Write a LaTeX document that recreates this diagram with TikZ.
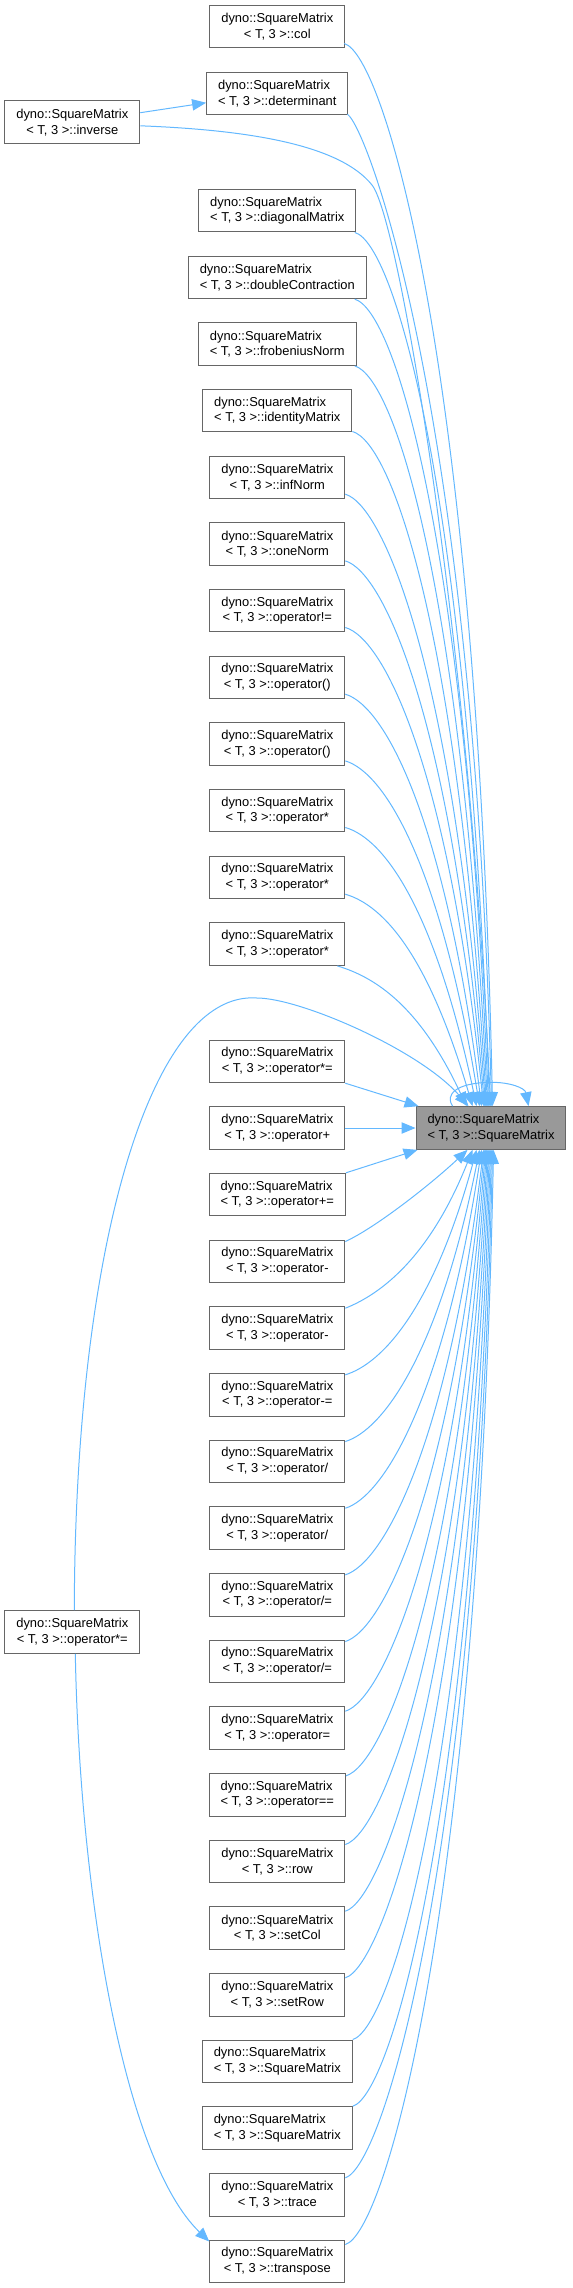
\documentclass[tikz,border=0pt]{standalone}
\usepackage{fontspec}
\setmainfont{Liberation Sans}
\usetikzlibrary{arrows.meta,calc}
\definecolor{edgeblue}{HTML}{63B8FF}
\definecolor{boxgray}{HTML}{666666}
\definecolor{maingray}{HTML}{999999}
\newsavebox\dlboxA
\newsavebox\dlboxB
\newlength\dlwid
\newcommand{\dl}[1]{%
  \sbox\dlboxA{dyno::SquareMatrix}%
  \sbox\dlboxB{#1}%
  \setlength\dlwid{\wd\dlboxA}%
  \ifdim\wd\dlboxB>\dlwid\setlength\dlwid{\wd\dlboxB}\fi
  \vbox{\hbox to\dlwid{\usebox\dlboxA\hfil}\hbox to\dlwid{\hfil\usebox\dlboxB\hfil}}}
\tikzset{
  fn/.style={draw=boxgray, fill=white, line width=0.75pt, minimum width=101.25pt,
    minimum height=32pt, inner xsep=8.6pt, inner ysep=0pt,
    font=\fontsize{9.68pt}{11.8pt}\selectfont},
  mainbox/.style={fn, fill=maingray, draw=boxgray},
  callarrow/.style={draw=edgeblue, line width=0.75pt, -{Triangle[length=10.5pt,width=8.5pt]}},
}
\begin{document}
\begin{tikzpicture}[x=0.75pt,y=-0.75pt]
\useasboundingbox (0,0) rectangle (572,2288);
% nodes
\node[fn] (col)    at (277.3,26.65)  {\dl{< T, 3 >::col}};
\node[fn] (det)    at (277.3,93.35)  {\dl{< T, 3 >::determinant}};
\node[fn] (inv)    at (72.3,122.3)   {\dl{< T, 3 >::inverse}};
\node[fn] (diag)   at (277.3,210.65) {\dl{< T, 3 >::diagonalMatrix}};
\node[fn] (dbl)    at (277.3,277.35) {\dl{< T, 3 >::doubleContraction}};
\node[fn] (frob)   at (277.3,344.05) {\dl{< T, 3 >::frobeniusNorm}};
\node[fn] (ident)  at (277.3,410.65) {\dl{< T, 3 >::identityMatrix}};
\node[fn] (infn)   at (277.3,477.35) {\dl{< T, 3 >::infNorm}};
\node[fn] (onen)   at (277.3,544.05) {\dl{< T, 3 >::oneNorm}};
\node[fn] (opne)   at (277.3,610.65) {\dl{< T, 3 >::operator!=}};
\node[fn] (opca)   at (277.3,677.35) {\dl{< T, 3 >::operator()}};
\node[fn] (opcb)   at (277.3,744.05) {\dl{< T, 3 >::operator()}};
\node[fn] (opma)   at (277.3,810.65) {\dl{< T, 3 >::operator*}};
\node[fn] (opmb)   at (277.3,877.35) {\dl{< T, 3 >::operator*}};
\node[fn] (opmc)   at (277.3,944.05) {\dl{< T, 3 >::operator*}};
\node[fn] (opmeq)  at (277.3,1061.35) {\dl{< T, 3 >::operator*=}};
\node[fn] (opp)    at (277.3,1128)   {\dl{< T, 3 >::operator+}};
\node[mainbox] (main) at (491,1128)  {\dl{< T, 3 >::SquareMatrix}};
\node[fn] (oppeq)  at (277.3,1194.65) {\dl{< T, 3 >::operator+=}};
\node[fn] (opsa)   at (277.3,1261.35) {\dl{< T, 3 >::operator-}};
\node[fn] (opsb)   at (277.3,1328.05) {\dl{< T, 3 >::operator-}};
\node[fn] (opseq)  at (277.3,1394.65) {\dl{< T, 3 >::operator-=}};
\node[fn] (opda)   at (277.3,1461.35) {\dl{< T, 3 >::operator/}};
\node[fn] (opdb)   at (277.3,1528.05) {\dl{< T, 3 >::operator/}};
\node[fn] (opdeqa) at (277.3,1594.65) {\dl{< T, 3 >::operator/=}};
\node[fn] (opdeqb) at (277.3,1661.35) {\dl{< T, 3 >::operator/=}};
\node[fn] (opeq)   at (277.3,1728.05) {\dl{< T, 3 >::operator=}};
\node[fn] (opeqeq) at (277.3,1794.65) {\dl{< T, 3 >::operator==}};
\node[fn] (row)    at (277.3,1861.35) {\dl{< T, 3 >::row}};
\node[fn] (setcol) at (277.3,1928.05) {\dl{< T, 3 >::setCol}};
\node[fn] (setrow) at (277.3,1994.65) {\dl{< T, 3 >::setRow}};
\node[fn] (sqa)    at (277.3,2061.35) {\dl{< T, 3 >::SquareMatrix}};
\node[fn] (sqb)    at (277.3,2128.05) {\dl{< T, 3 >::SquareMatrix}};
\node[fn] (trace)  at (277.3,2194.65) {\dl{< T, 3 >::trace}};
\node[fn] (transp) at (277.3,2261.35) {\dl{< T, 3 >::transpose}};
\node[fn] (lopmeq) at (72.3,1632)    {\dl{< T, 3 >::operator*=}};
% upper edges
\draw[callarrow] ($(col.south east)+(-1,-5)$) .. controls (383.8,54.7) and (477,362) .. ($(main.north west)+(77,0)$);
\draw[callarrow] ($(det.south east)+(-1,-1)$) .. controls (367.9,128.7) and (474,411.6) .. ($(main.north west)+(76,0)$);
\draw[callarrow] ($(inv.east)+(0,3.5)$) .. controls (250,130) and (340,145) .. (372,185) .. controls (400,220) and (470,650) .. ($(main.north west)+(75,0)$);
\draw[callarrow] ($(inv.east)+(0,-9.6)$) -- ($(det.west)+(0,9.4)$);
\draw[callarrow] ($(diag.south east)+(-1.5,0)$) .. controls (395,243.7) and (468,494) .. ($(main.north west)+(74,0)$);
\draw[callarrow] ($(dbl.south east)+(-12,0)$) .. controls (395,310.7) and (465,541) .. ($(main.north west)+(73,0)$);
\draw[callarrow] ($(frob.south east)+(-2,0)$) .. controls (395,377.7) and (462,588) .. ($(main.north west)+(72,0)$);
\draw[callarrow] ($(ident.south east)+(0,-1)$) .. controls (392.6,443) and (458.5,633.8) .. ($(main.north west)+(71,0)$);
\draw[callarrow] ($(infn.south east)+(0,-5)$) .. controls (384.8,505.7) and (455.4,677.6) .. ($(main.north west)+(70,0)$);
\draw[callarrow] ($(onen.south east)+(0,-5)$) .. controls (384.8,572.4) and (452.2,724.4) .. ($(main.north west)+(69,0)$);
\draw[callarrow] ($(opne.south east)+(0,-5)$) .. controls (384.8,638.7) and (449,770.8) .. ($(main.north west)+(68,0)$);
\draw[callarrow] ($(opca.south east)+(0,-5)$) .. controls (384.8,705.7) and (444.8,817.7) .. ($(main.north west)+(66,0)$);
\draw[callarrow] ($(opcb.south east)+(0,-5)$) .. controls (384.8,772.7) and (440.5,864.6) .. ($(main.north west)+(64,0)$);
\draw[callarrow] ($(opma.south east)+(0,-5)$) .. controls (384.8,838.7) and (435.3,910.7) .. ($(main.north west)+(61,0)$);
\draw[callarrow] ($(opmb.south east)+(0,-5)$) .. controls (384.8,905.7) and (429,957.7) .. ($(main.north west)+(57,0)$);
\draw[callarrow] ($(opmc.south east)+(-8,0)$) .. controls (377,977.7) and (420.7,1008) .. ($(main.north west)+(51,0)$);
% neighbours
\draw[callarrow] (opmeq.south east) -- ($(main.north west)+(3,0)$);
\draw[callarrow] (opp.east) -- (main.west);
\draw[callarrow] (oppeq.north east) -- ($(main.south west)+(2,0)$);
% lower edges
\draw[callarrow] ($(opsa.north east)+(0,2)$) .. controls (375,1228) and (430,1185) .. ($(main.south west)+(52,0)$);
\draw[callarrow] ($(opsb.north east)+(0,2)$) .. controls (376,1296) and (427.4,1263) .. ($(main.south west)+(57,0)$);
\draw[callarrow] ($(opseq.north east)+(0,2)$) .. controls (382.8,1363.3) and (433.5,1307.5) .. ($(main.south west)+(61,0)$);
\draw[callarrow] ($(opda.north east)+(0,2)$) .. controls (382.8,1430) and (438.8,1354.2) .. ($(main.south west)+(64,0)$);
\draw[callarrow] ($(opdb.north east)+(0,2)$) .. controls (382.8,1496.7) and (443,1400.9) .. ($(main.south west)+(66,0)$);
\draw[callarrow] ($(opdeqa.north east)+(0,2)$) .. controls (382.8,1563.3) and (447.2,1447.5) .. ($(main.south west)+(68,0)$);
\draw[callarrow] ($(opdeqb.north east)+(0,2)$) .. controls (382.8,1630) and (450.4,1494.2) .. ($(main.south west)+(69,0)$);
\draw[callarrow] ($(opeq.north east)+(0,5)$) .. controls (382.8,1699.7) and (453.7,1543) .. ($(main.south west)+(70,0)$);
\draw[callarrow] ($(opeqeq.north east)+(0,3)$) .. controls (384.2,1764.3) and (456.9,1588.2) .. ($(main.south west)+(71,0)$);
\draw[callarrow] ($(row.north east)+(0,5)$) .. controls (382.8,1833) and (460.2,1636.3) .. ($(main.south west)+(72,0)$);
\draw[callarrow] ($(setcol.north east)+(0,5)$) .. controls (382.8,1899.7) and (463.4,1683) .. ($(main.south west)+(73,0)$);
\draw[callarrow] ($(setrow.north east)+(0,5)$) .. controls (382.8,1966.3) and (466.6,1729.6) .. ($(main.south west)+(74,0)$);
\draw[callarrow] (sqa.north east) .. controls (391,2028) and (469.7,1772.8) .. ($(main.south west)+(75,0)$);
\draw[callarrow] (sqb.north east) .. controls (391,2094.7) and (472.9,1819.5) .. ($(main.south west)+(76,0)$);
\draw[callarrow] ($(trace.north east)+(0,5)$) .. controls (382.8,2166.3) and (476.3,1869.6) .. ($(main.south west)+(77,0)$);
\draw[callarrow] ($(transp.north east)+(0,5)$) .. controls (384.8,2233) and (478,1916.3) .. ($(main.south west)+(78,0)$);
% left operator*= node
\draw[callarrow] ($(lopmeq.north)+(2,0)$) .. controls (75,1250) and (150,990) .. (257,998) .. controls (300,998) and (420,1050) .. ($(main.north west)+(53,0)$);
\draw[callarrow] ($(lopmeq.south)+(3,0)$) .. controls (80,1900) and (125,2160) .. ($(transp.north west)+(0,2)$);
% self loop
\draw[callarrow] ($(main.north west)+(37,0)$) .. controls (445,1095) and (455,1083) .. (490,1082.3) .. controls (510,1082) and (525,1088) .. ($(main.north west)+(113,0)$);
\end{tikzpicture}
\end{document}
